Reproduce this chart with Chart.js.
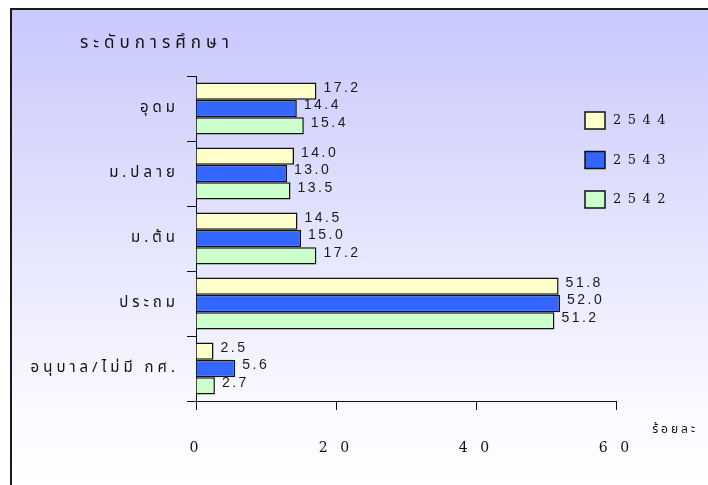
<!DOCTYPE html>
<html>
<head>
<meta charset="utf-8">
<script src="https://cdn.jsdelivr.net/npm/chart.js@4"></script>
<style>
html, body { margin: 0; padding: 0; background: #fff; }
#wrap { width: 708px; height: 485px; position: relative; }
</style>
</head>
<body>
<div id="wrap"><canvas id="eduChart"></canvas></div>
<script>
// ข้อมูลระดับการศึกษา (ร้อยละ)
const categories = ['อุดม', 'ม.ปลาย', 'ม.ต้น', 'ประถม', 'อนุบาล/ไม่มี กศ.'];
const years = ['2544', '2543', '2542'];
const values2544 = [17.2, 14.0, 14.5, 51.8, 2.5];
const values2543 = [14.4, 13.0, 15.0, 52.0, 5.6];
const values2542 = [15.4, 13.5, 17.2, 51.2, 2.7];
const xTicks = [0, 20, 40, 60];
const barColors = ['#FFFFCC', '#3366FF', '#CCFFCC'];

const thaiFont = '"Noto Sans Thai", "Noto Sans", sans-serif';

// fond dégradé + bordure
const background = {
    id: 'background',
    beforeDraw(chart) {
        const c = chart.ctx;
        c.save();
        c.fillStyle = '#fff';
        c.fillRect(0, 0, chart.width, chart.height);
        const g = c.createLinearGradient(0, 9, 0, chart.height);
        g.addColorStop(0, '#C8C8FC');
        g.addColorStop(0.85, '#FAFAFF');
        g.addColorStop(1, '#FFFFFF');
        c.fillStyle = g;
        c.fillRect(11, 9, chart.width, chart.height);
        c.fillStyle = '#1a1a1a';
        c.fillRect(10, 8, chart.width, 2);
        c.fillRect(10, 8, 2, chart.height);
        c.restore();
        // espacement des lettres pour les étiquettes d'axes
        c.letterSpacing = '4px';
    }
};

const valueLabels = {
    id: 'valueLabels',
    afterDatasetsDraw(chart) {
        const c = chart.ctx;
        c.save();
        c.letterSpacing = '2.5px';
        c.font = '14px "Liberation Sans", Arial, sans-serif';
        c.fillStyle = '#1a1a1a';
        c.textAlign = 'left';
        c.textBaseline = 'middle';
        chart.data.datasets.forEach((ds, i) => {
            chart.getDatasetMeta(i).data.forEach((bar, j) => {
                c.fillText(ds.data[j].toFixed(1), bar.x + 7, bar.y - 3);
            });
        });
        c.restore();
    }
};

const decorations = {
    id: 'decorations',
    afterDraw(chart) {
        const c = chart.ctx;
        c.save();
        c.fillStyle = '#111';
        c.textBaseline = 'middle';

        // titre
        c.letterSpacing = '5px';
        c.font = '17px ' + thaiFont;
        c.textAlign = 'left';
        c.fillText('ระดับการศึกษา', 80, 45);

        // légende
        c.letterSpacing = '6.5px';
        c.font = '13px "DejaVu Serif", serif';
        chart.data.datasets.forEach((ds, i) => {
            const y = 112 + i * 39.5;
            c.fillStyle = ds.backgroundColor;
            c.fillRect(585, y, 20, 17);
            c.lineWidth = 1.5;
            c.strokeStyle = '#111';
            c.strokeRect(585, y, 20, 17);
            c.fillStyle = '#111';
            c.fillText(ds.label, 613, y + 9);
        });

        // unité
        c.letterSpacing = '3px';
        c.font = '12px ' + thaiFont;
        c.textAlign = 'right';
        c.fillText('ร้อยละ', 698, 431);
        c.restore();
    }
};

new Chart(document.getElementById('eduChart'), {
    type: 'bar',
    data: {
        labels: categories,
        datasets: [
            { label: years[0], data: values2544, backgroundColor: barColors[0] },
            { label: years[1], data: values2543, backgroundColor: barColors[1] },
            { label: years[2], data: values2542, backgroundColor: barColors[2] }
        ]
    },
    options: {
        indexAxis: 'y',
        responsive: true,
        maintainAspectRatio: false,
        animation: false,
        layout: { padding: { left: 0, top: 76, right: 92, bottom: 0 } },
        datasets: {
            bar: {
                borderColor: '#111',
                borderWidth: 1.5,
                categoryPercentage: 0.8,
                barPercentage: 1.0
            }
        },
        scales: {
            x: {
                min: 0,
                max: 60,
                afterBuildTicks(scale) {
                    scale.ticks = xTicks.map(v => ({ value: v }));
                },
                afterFit(scale) { scale.height = 84; },
                grid: { drawOnChartArea: false, tickLength: 9, color: '#111' },
                border: { color: '#111', width: 1 },
                ticks: {
                    autoSkip: false,
                    maxRotation: 0,
                    padding: 30,
                    color: '#111',
                    font: { family: '"DejaVu Serif", serif', size: 14 },
                    callback: v => String(v).split('').join(' ')
                }
            },
            y: {
                afterFit(scale) { scale.width = 196; },
                grid: { drawOnChartArea: false, tickLength: 9, color: '#111' },
                border: { color: '#111', width: 1 },
                ticks: {
                    padding: 8,
                    color: '#111',
                    font: { family: thaiFont, size: 15 }
                }
            }
        },
        plugins: {
            legend: { display: false },
            title: { display: false },
            tooltip: { enabled: false }
        }
    },
    plugins: [background, valueLabels, decorations]
});
</script>
</body>
</html>
